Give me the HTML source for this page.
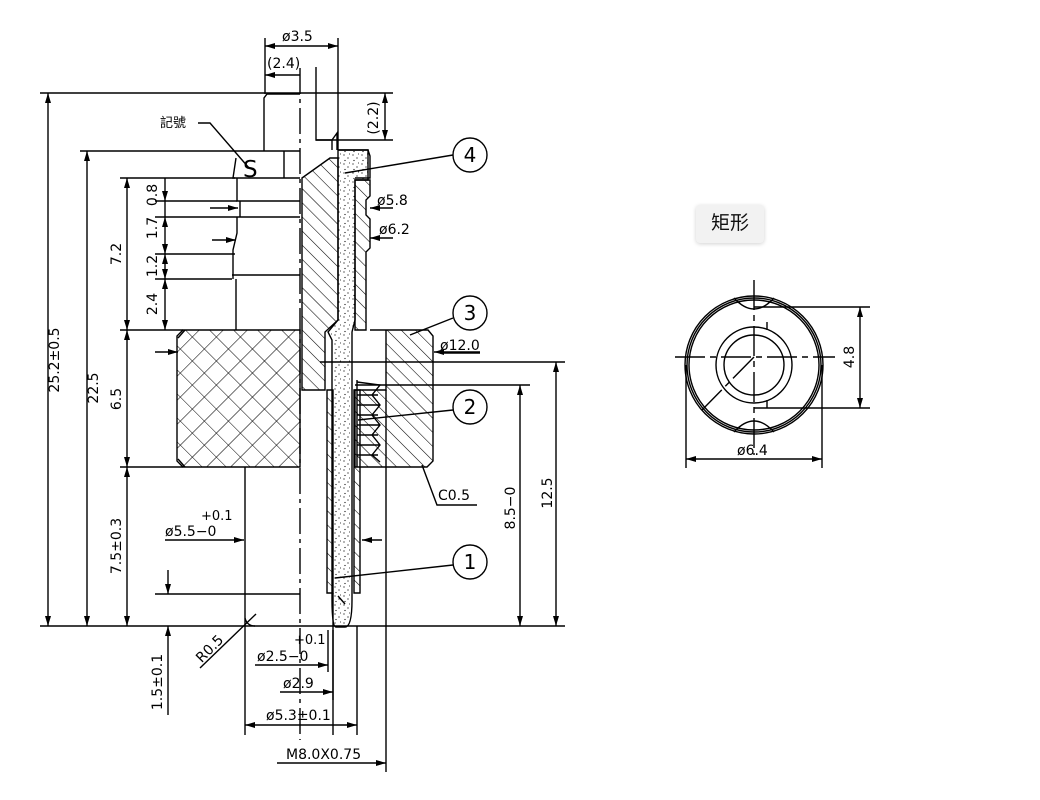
<!DOCTYPE html>
<html><head><meta charset="utf-8"><style>
html,body{margin:0;padding:0;background:#fff;width:1040px;height:800px;overflow:hidden}
svg{display:block}
text{font-family:"DejaVu Sans","Liberation Sans",sans-serif;fill:#000}
.btn{position:absolute;left:696px;top:205px;width:68px;height:38px;background:#f2f2f2;border-radius:4px;box-shadow:0 1px 4px rgba(0,0,0,.18);font-family:"Liberation Sans","Noto Sans CJK SC",sans-serif;font-size:19px;line-height:38px;text-align:center;color:#111}
</style></head><body>
<svg width="1040" height="800" viewBox="0 0 1040 800" xmlns="http://www.w3.org/2000/svg">
<defs>
<pattern id="h" width="10" height="10" patternUnits="userSpaceOnUse" patternTransform="rotate(-45)"><line x1="0" y1="0" x2="0" y2="10" stroke="#000" stroke-width="1.1"/></pattern>
<pattern id="x" width="17" height="17" patternUnits="userSpaceOnUse" patternTransform="rotate(45)"><path d="M0 0V17M0 0H17" stroke="#000" stroke-width="1.1"/></pattern>
<pattern id="d" width="9" height="9" patternUnits="userSpaceOnUse"><circle cx="2" cy="2" r=".6"/><circle cx="6" cy="5" r=".6"/><circle cx="3" cy="7.5" r=".6"/><circle cx="7.5" cy="1" r=".5"/></pattern>
<marker id="a" viewBox="0 0 10 6" refX="10" refY="3" markerWidth="10" markerHeight="6" orient="auto-start-reverse" markerUnits="userSpaceOnUse"><path d="M0 0L10 3L0 6z"/></marker>
</defs>
<g stroke="#000" stroke-width="1.4" fill="none">
<line x1="40" y1="93" x2="393" y2="93"/>
<line x1="40" y1="626" x2="565" y2="626"/>
<line x1="80" y1="151" x2="233" y2="151"/>
<line x1="120" y1="178" x2="235" y2="178"/>
<line x1="120" y1="330" x2="183" y2="330"/>
<line x1="120" y1="467" x2="183" y2="467"/>
<line x1="155" y1="201" x2="237" y2="201"/>
<line x1="155" y1="217" x2="237" y2="217"/>
<line x1="155" y1="254" x2="235" y2="254"/>
<line x1="155" y1="279" x2="232" y2="279"/>
<line x1="155" y1="594" x2="245" y2="594"/>
<line x1="48" y1="93" x2="48" y2="626" marker-start="url(#a)" marker-end="url(#a)"/>
<line x1="87" y1="151" x2="87" y2="626" marker-start="url(#a)" marker-end="url(#a)"/>
<line x1="127" y1="178" x2="127" y2="330" marker-start="url(#a)" marker-end="url(#a)"/>
<line x1="127" y1="330" x2="127" y2="467" marker-start="url(#a)" marker-end="url(#a)"/>
<line x1="127" y1="467" x2="127" y2="626" marker-start="url(#a)" marker-end="url(#a)"/>
<line x1="165" y1="178" x2="165" y2="201" marker-end="url(#a)"/>
<line x1="165" y1="201" x2="165" y2="217"/>
<line x1="165" y1="217" x2="165" y2="254" marker-start="url(#a)" marker-end="url(#a)"/>
<line x1="165" y1="254" x2="165" y2="279" marker-start="url(#a)" marker-end="url(#a)"/>
<line x1="165" y1="279" x2="165" y2="330" marker-start="url(#a)" marker-end="url(#a)"/>
<line x1="210" y1="208" x2="238" y2="208" marker-end="url(#a)"/>
<line x1="212" y1="240" x2="236" y2="240" marker-end="url(#a)"/>
<line x1="155" y1="352" x2="178" y2="352" marker-end="url(#a)"/>
<line x1="168" y1="570" x2="168" y2="594" marker-end="url(#a)"/>
<line x1="168" y1="715" x2="168" y2="626" marker-end="url(#a)"/>
<line x1="300" y1="68" x2="300" y2="740" stroke-dasharray="26,5,4,5"/>
<path d="M300 94H267L264 98V151"/>
<path d="M233 151H300M236 158L233 178H300M284 151V178"/>
<path d="M237 178V201H300M240 201V217M237 217H300M237 217V233L233 250V279M232 275H300M236 279V330"/>
<path d="M183 330H300V467H183L177 461V336Z" fill="url(#x)"/>
<path d="M185 330L178 338M185 467L178 459"/>
<path d="M245 467V626M245 594H300"/>
<path d="M245 618Q247 626 255 626"/>
<path d="M316 94V140H332V150M332 140L337 133V150"/>
<path d="M302 178L330 158H338V320L325 332V390H302Z" fill="url(#h)"/>
<path d="M338 150H368V180H355V320L352 332V600Q352 627 345 627H336Q332 627 332 600V340L328 332L338 320Z" fill="url(#d)"/>
<path d="M338 150H368L370 156V178H355"/>
<path d="M355 180H370V196L366 200V215L370 219V248L366 252V330H355Z" fill="url(#h)"/>
<path d="M370 330H428L433 336V461L427 467H355V390H386V330Z" fill="url(#h)"/>
<path d="M386 390V467"/>
<path d="M357 382L380 385L372 395L380 405L372 415L380 425L372 435L380 445L372 455L380 462M357 395H378M357 405H380M357 415H378M357 425H380M357 435H378M357 445H380M357 455H378"/>
<line x1="357" y1="380" x2="357" y2="467"/>
<path d="M327 390H333V593H327Z" fill="url(#h)"/>
<path d="M354 390H360V593H354Z" fill="url(#h)"/>
<line x1="333" y1="593" x2="333" y2="735"/>
<line x1="338" y1="596" x2="345" y2="604"/>
<line x1="386" y1="467" x2="386" y2="772"/>
<line x1="320" y1="362" x2="565" y2="362"/>
<line x1="355" y1="385" x2="530" y2="385"/>
<line x1="520" y1="385" x2="520" y2="626" marker-start="url(#a)" marker-end="url(#a)"/>
<line x1="556" y1="362" x2="556" y2="626" marker-start="url(#a)" marker-end="url(#a)"/>
<line x1="480" y1="352" x2="434" y2="352" marker-end="url(#a)"/>
<line x1="393" y1="208" x2="370" y2="208" marker-end="url(#a)"/>
<line x1="393" y1="238" x2="370" y2="238" marker-end="url(#a)"/>
<line x1="382" y1="540" x2="362" y2="540" marker-end="url(#a)"/>
<line x1="165" y1="540" x2="244" y2="540" marker-end="url(#a)"/>
<line x1="265" y1="38" x2="265" y2="94"/>
<line x1="338" y1="38" x2="338" y2="150"/>
<line x1="316" y1="67" x2="316" y2="94"/>
<line x1="265" y1="46" x2="338" y2="46" marker-start="url(#a)" marker-end="url(#a)"/>
<line x1="265" y1="75" x2="300" y2="75" marker-start="url(#a)"/>
<line x1="316" y1="140" x2="393" y2="140"/>
<line x1="385" y1="93" x2="385" y2="140" marker-start="url(#a)" marker-end="url(#a)"/>
<path d="M198 123H210L249 168"/>
<path d="M453 155L345 173"/>
<path d="M453 318L410 335"/>
<path d="M453 410L358 420"/>
<path d="M453 565L335 578"/>
<path d="M422 465L437 505H477"/>
<path d="M440 353H480"/>
<path d="M200 668L256 614"/>
<line x1="328" y1="630" x2="328" y2="672"/>
<line x1="333" y1="630" x2="333" y2="700"/>
<line x1="357" y1="626" x2="357" y2="735"/>
<line x1="245" y1="626" x2="245" y2="735"/>
<line x1="255" y1="665" x2="328" y2="665" marker-end="url(#a)"/>
<line x1="280" y1="692" x2="333" y2="692" marker-end="url(#a)"/>
<line x1="245" y1="725" x2="357" y2="725" marker-start="url(#a)" marker-end="url(#a)"/>
<line x1="277" y1="763" x2="386" y2="763" marker-end="url(#a)"/>
<circle cx="470" cy="155" r="17"/>
<circle cx="470" cy="313" r="17"/>
<circle cx="470" cy="407" r="17"/>
<circle cx="470" cy="562" r="17"/>
<circle cx="754" cy="365" r="69"/>
<circle cx="754" cy="365" r="67"/>
<circle cx="754" cy="365" r="65"/>
<circle cx="754" cy="365" r="38"/>
<circle cx="754" cy="365" r="30"/>
<path d="M734 298Q754 320 774 298"/>
<path d="M734 432Q754 410 774 432"/>
<line x1="767" y1="322" x2="767" y2="330"/>
<line x1="767" y1="400" x2="767" y2="408"/>
<line x1="675" y1="357" x2="835" y2="357" stroke-dasharray="30,5,6,5"/>
<line x1="754" y1="280" x2="754" y2="455" stroke-dasharray="30,5,6,5"/>
<line x1="754" y1="357" x2="702" y2="410" stroke-dasharray="30,5,6,5"/>
<line x1="754" y1="307" x2="870" y2="307"/>
<line x1="754" y1="408" x2="870" y2="408"/>
<line x1="860" y1="307" x2="860" y2="408" marker-start="url(#a)" marker-end="url(#a)"/>
<line x1="686" y1="365" x2="686" y2="468"/>
<line x1="822" y1="365" x2="822" y2="468"/>
<line x1="686" y1="459" x2="822" y2="459" marker-start="url(#a)" marker-end="url(#a)"/>
</g>
<g font-size="14">
<text x="282" y="41">ø3.5</text>
<text x="267" y="68">(2.4)</text>
<text x="378" y="118" transform="rotate(-90 378 118)" text-anchor="middle">(2.2)</text>
<text x="160" y="127" font-family="Liberation Sans,Noto Sans CJK TC,sans-serif" font-size="13">記號</text>
<text x="243" y="177" font-size="23">S</text>
<text x="377" y="205">ø5.8</text>
<text x="379" y="234">ø6.2</text>
<text x="440" y="350">ø12.0</text>
<text x="438" y="500">C0.5</text>
<text x="59" y="360" transform="rotate(-90 59 360)" text-anchor="middle">25.2±0.5</text>
<text x="98" y="388" transform="rotate(-90 98 388)" text-anchor="middle">22.5</text>
<text x="121" y="254" transform="rotate(-90 121 254)" text-anchor="middle">7.2</text>
<text x="121" y="399" transform="rotate(-90 121 399)" text-anchor="middle">6.5</text>
<text x="121" y="546" transform="rotate(-90 121 546)" text-anchor="middle">7.5±0.3</text>
<text x="157" y="195" transform="rotate(-90 157 195)" text-anchor="middle">0.8</text>
<text x="157" y="228" transform="rotate(-90 157 228)" text-anchor="middle">1.7</text>
<text x="157" y="266" transform="rotate(-90 157 266)" text-anchor="middle">1.2</text>
<text x="157" y="304" transform="rotate(-90 157 304)" text-anchor="middle">2.4</text>
<text x="162" y="682" transform="rotate(-90 162 682)" text-anchor="middle">1.5±0.1</text>
<text x="515" y="508" transform="rotate(-90 515 508)" text-anchor="middle">8.5−0</text>
<text x="552" y="493" transform="rotate(-90 552 493)" text-anchor="middle">12.5</text>
<text x="213" y="652" transform="rotate(-45 213 652)" text-anchor="middle">R0.5</text>
<text x="201" y="520" font-size="13">+0.1</text>
<text x="165" y="536">ø5.5−0</text>
<text x="294" y="644" font-size="13">+0.1</text>
<text x="257" y="661">ø2.5−0</text>
<text x="283" y="688">ø2.9</text>
<text x="266" y="720">ø5.3±0.1</text>
<text x="286" y="759">M8.0X0.75</text>
<text x="854" y="357" transform="rotate(-90 854 357)" text-anchor="middle">4.8</text>
<text x="737" y="455">ø6.4</text>
<text x="470" y="162" font-size="20" text-anchor="middle">4</text>
<text x="470" y="320" font-size="20" text-anchor="middle">3</text>
<text x="470" y="414" font-size="20" text-anchor="middle">2</text>
<text x="470" y="569" font-size="20" text-anchor="middle">1</text>
</g>
</svg>
<div class="btn">矩形</div>
</body></html>
